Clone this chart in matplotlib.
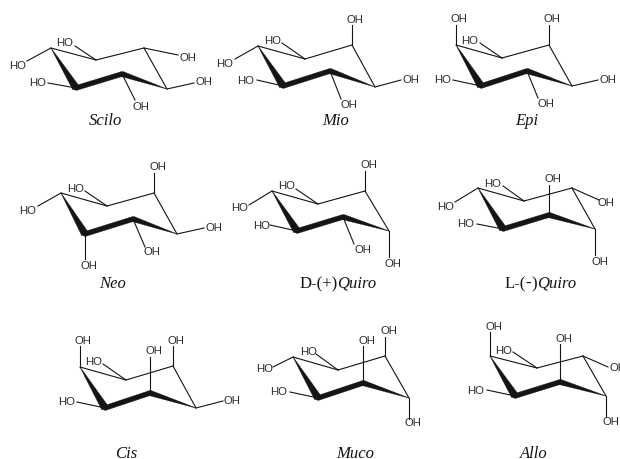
import matplotlib
matplotlib.use("Agg")
import matplotlib.pyplot as plt
import numpy as np
from matplotlib.patches import Polygon, Circle

INK = "#161415"
TXT = "#2b2b2b"

# Ring atoms in order A (back left), B (back mid), C (back right),
# D (front right), E (front mid), F (front left); image pixels
rings = [
    [(51,49),(96,61),(144,49),(167,90),(122,75),(76,89)],
    [(258,47),(305,60),(352,46),(375,88),(330,72),(283,87)],
    [(456,46),(502,59),(549,46),(572,87),(527,72),(481,87)],
    [(61,194),(107,207),(154,194),(177,235),(133,220),(85,235)],
    [(272,192),(318,205),(365,192),(389,232),(343,218),(297,232)],
    [(478,189),(524,202),(572,189),(595,230),(549,216),(503,230)],
    [(80,368),(126,381),(173,367),(196,409),(150,394),(105,409)],
    [(293,358),(338,371),(385,357),(409,399),(363,384),(318,399)],
    [(490,357),(537,369),(583,357),(606,397),(560,383),(515,397)],
]
# Free end of each O-bond, same order as the ring atoms
bond_ends = [
    [(27,62),(75,47),(178,56),(194,84),(135,101),(48,84)],
    [(235,60),(282,44),(352,26),(401,81),(341,100),(257,81)],
    [(456,26),(480,44),(549,26),(598,81),(538,99),(453,81)],
    [(38,207),(85,192),(154,174),(204,229),(145,248),(85,260)],
    [(249,206),(296,190),(365,172),(389,258),(354,245),(270,226)],
    [(455,203),(503,187),(599,201),(595,256),(549,186),(477,225)],
    [(80,347),(103,365),(173,347),(223,402),(150,358),(77,403)],
    [(273,368),(316,355),(385,338),(409,420),(363,347),(290,393)],
    [(490,333),(513,353),(608,368),(606,418),(560,345),(487,391)],
]
# Hydroxyl labels, same order
oh_texts = [
    ["HO","HO","OH","OH","OH","HO"],
    ["HO","HO","OH","OH","OH","HO"],
    ["OH","HO","OH","OH","OH","HO"],
    ["HO","HO","OH","OH","OH","OH"],
    ["HO","HO","OH","OH","OH","HO"],
    ["HO","HO","OH","OH","OH","HO"],
    ["OH","HO","OH","OH","OH","HO"],
    ["HO","HO","OH","OH","OH","HO"],
    ["OH","HO","OH","OH","OH","HO"],
]
oh_centres = [
    [(18,66),(65,43),(188,58),(204,82),(141,107),(38,83)],
    [(225,64),(273,41),(355,20),(411,80),(349,105),(246,81)],
    [(459,19),(470,41),(552,19),(608,80),(546,104),(443,80)],
    [(28,211),(76,189),(158,167),(214,228),(152,252),(89,266)],
    [(240,208),(287,186),(369,165),(393,264),(363,250),(262,226)],
    [(446,207),(493,184),(606,203),(600,262),(553,179),(466,224)],
    [(83,341),(94,362),(176,341),(232,401),(154,351),(67,402)],
    [(265,369),(309,352),(389,331),(413,423),(367,341),(279,392)],
    [(494,327),(504,351),(618,368),(611,422),(564,339),(476,391)],
]

caption_parts = [
    [("Scilo","i")],[("Mio","i")],[("Epi","i")],
    [("Neo","i")],[("D-(+)","n"),("Quiro","i")],[("L-(","n"),("-","b"),(")","n"),("Quiro","i")],
    [("Cis","i")],[("Muco","i")],[("Allo","i")],
]
caption_baselines = [(105,125),(336,125),(527,125),(113,288),(338,288),(540,288),(126,458.5),(355,458.5),(534,458.5)]

fig = plt.figure(figsize=(6.2, 4.6), dpi=100)
ax = fig.add_axes([0, 0, 1, 1])
ax.set_xlim(0, 620); ax.set_ylim(460, 0); ax.axis("off")

def wedge(p, q, w0, w1):
    p, q = np.array(p, float), np.array(q, float)
    d = q - p; n = np.array([-d[1], d[0]]) / np.hypot(*d)
    ax.add_patch(Polygon([p + n*w0/2, q + n*w1/2, q - n*w1/2, p - n*w0/2],
                         closed=True, fc=INK, ec=INK, lw=0.2, zorder=3))

for ring, ends, texts, cents in zip(rings, bond_ends, oh_texts, oh_centres):
    A, B, C, D, E, F = ring
    for p, q in [(A,B),(B,C),(C,D)]:
        ax.plot([p[0],q[0]],[p[1],q[1]], color=INK, lw=0.8, solid_capstyle="round", zorder=2)
    wedge(A, F, 0.3, 7.5)
    wedge(F, E, 5.0, 5.0)
    wedge(E, D, 5.5, 0.3)
    ax.add_patch(Circle(F, 2.5, fc=INK, ec="none", zorder=3))
    ax.add_patch(Circle(E, 2.5, fc=INK, ec="none", zorder=3))
    for p, q, t, c in zip(ring, ends, texts, cents):
        ax.plot([p[0],q[0]],[p[1],q[1]], color=INK, lw=0.8, zorder=2)
        ax.text(c[0], c[1], t, ha="center", va="center", fontsize=8.2,
                family="Liberation Sans", color=TXT, clip_on=True)

styles = {"i": dict(style="italic"), "n": dict(), "b": dict(weight="bold")}
r = fig.canvas.get_renderer()
for parts, (cx, by) in zip(caption_parts, caption_baselines):
    items = [ax.text(0, by, s, family="Liberation Serif", fontsize=12, color=INK,
                     ha="left", va="baseline", **styles[k]) for s, k in parts]
    widths = [it.get_window_extent(r).width for it in items]
    x = cx - sum(widths) / 2
    for it, w in zip(items, widths):
        it.set_x(x); x += w

fig.savefig("out.png", dpi=100)
